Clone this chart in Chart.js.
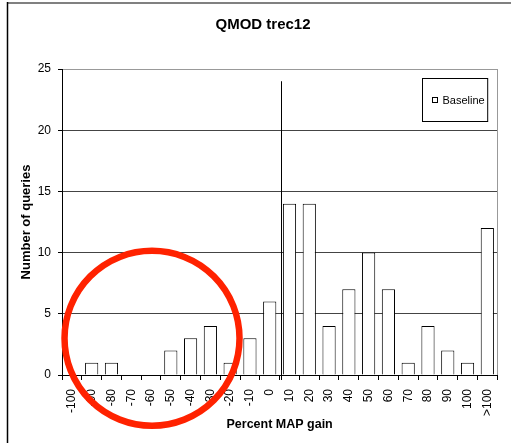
<!DOCTYPE html>
<html>
<head>
<meta charset="utf-8">
<script src="https://cdn.jsdelivr.net/npm/chart.js@4"></script>
<style>
html,body{margin:0;padding:0;background:#fff;}
#wrap{position:relative;width:511px;height:443px;}
</style>
</head>
<body>
<div id="wrap"><canvas id="c" width="511" height="443"></canvas></div>
<script>
const categories = ['-100','-90','-80','-70','-60','-50','-40','-30','-20','-10','0','10','20','30','40','50','60','70','80','90','100','>100'];
const baseline = [0,1,1,0,0,2,3,4,1,3,6,14,14,4,7,10,7,1,4,2,1,12];
const yTicks = [0,5,10,15,20,25];
const seriesName = 'Baseline';
const chartTitle = 'QMOD trec12';
const xTitle = 'Percent MAP gain';
const yTitle = 'Number of queries';
const markerBetween = ['0','10'];
const markerTop = 24;
const highlightCenter = ['-60', 3.0];

const FONT = "'Liberation Sans', Arial, sans-serif";

const decor = {
  id: 'decor',
  beforeDraw(chart) {
    const ctx = chart.ctx;
    ctx.save();
    ctx.fillStyle = '#fff';
    ctx.fillRect(0, 0, chart.width, chart.height);
    ctx.restore();
  },
  afterDraw(chart) {
    const ctx = chart.ctx;
    const xs = chart.scales.x, ys = chart.scales.y;
    const ca = chart.chartArea;
    ctx.save();
    // outer frame
    ctx.strokeStyle = '#808080';
    ctx.lineWidth = 2;
    ctx.beginPath();
    ctx.moveTo(7, 3); ctx.lineTo(chart.width, 3);
    ctx.stroke();
    ctx.strokeStyle = '#000';
    ctx.lineWidth = 1.5;
    ctx.beginPath();
    ctx.moveTo(7.5, 2); ctx.lineTo(7.5, chart.height);
    ctx.stroke();
    // chart title
    ctx.fillStyle = '#000';
    ctx.font = "bold 15px " + FONT;
    ctx.textAlign = 'center';
    ctx.textBaseline = 'middle';
    ctx.fillText(chartTitle, (7 + chart.width) / 2 + 4, 25);
    // right plot border
    ctx.strokeStyle = '#999';
    ctx.lineWidth = 1;
    ctx.beginPath();
    ctx.moveTo(Math.round(ca.right) + 0.5, ca.top);
    ctx.lineTo(Math.round(ca.right) + 0.5, ca.bottom);
    ctx.stroke();
    // vertical marker between categories
    const i0 = categories.indexOf(markerBetween[0]);
    const i1 = categories.indexOf(markerBetween[1]);
    const mx = Math.round((xs.getPixelForValue(i0) + xs.getPixelForValue(i1)) / 2) + 1.5;
    ctx.strokeStyle = '#000';
    ctx.lineWidth = 1;
    ctx.beginPath();
    ctx.moveTo(mx, ys.getPixelForValue(markerTop));
    ctx.lineTo(mx, ca.bottom + 5);
    ctx.stroke();
    // legend
    ctx.font = "11px " + FONT;
    const tw = ctx.measureText(seriesName).width;
    const bw = tw + 23, bh = 43;
    const bx = Math.round(ca.right - 10 - bw) + 0.5;
    const by = Math.round(ca.top + 9) + 0.5;
    ctx.fillStyle = '#fff';
    ctx.fillRect(bx, by, bw, bh);
    ctx.strokeStyle = '#000';
    ctx.strokeRect(bx, by, bw, bh);
    const sy = Math.round(by + bh / 2 - 3) + 0.5;
    ctx.strokeRect(bx + 10, sy, 5, 5);
    ctx.fillStyle = '#000';
    ctx.textBaseline = 'middle';
    ctx.textAlign = 'left';
    ctx.fillText(seriesName, bx + 20, by + bh / 2 + 0.5);
    // highlight circle
    const cx = xs.getPixelForValue(categories.indexOf(highlightCenter[0]));
    const cy = ys.getPixelForValue(highlightCenter[1]);
    ctx.strokeStyle = 'rgb(255,34,0)';
    ctx.lineWidth = 6.5;
    ctx.beginPath();
    ctx.arc(cx + 1, cy, 87.5, 0, Math.PI * 2);
    ctx.stroke();
    ctx.restore();
  }
};

new Chart(document.getElementById('c'), {
  type: 'bar',
  data: {
    labels: categories,
    datasets: [{
      label: seriesName,
      data: baseline,
      backgroundColor: '#fff',
      borderColor: '#000',
      borderWidth: 1,
      barPercentage: 0.667,
      categoryPercentage: 1
    }]
  },
  options: {
    responsive: false,
    animation: false,
    devicePixelRatio: 1,
    layout: { padding: { left: 0, right: 12, top: 69, bottom: 0 } },
    plugins: {
      legend: { display: false },
      tooltip: { enabled: false },
      title: { display: false }
    },
    scales: {
      x: {
        offset: true,
        grid: { offset: true, drawOnChartArea: false, drawTicks: true, tickLength: 5, color: '#000' },
        border: { color: '#000', width: 1 },
        ticks: {
          minRotation: 90, maxRotation: 90, autoSkip: false, padding: 9,
          color: '#000', font: { family: FONT, size: 12 }
        },
        title: {
          display: true, text: xTitle, color: '#000',
          font: { family: FONT, size: 12.5, weight: 'bold' },
          padding: { top: 0, bottom: 11 }
        },
        afterFit(s) { s.height = 68; }
      },
      y: {
        min: 0, max: 25,
        afterBuildTicks(s) { s.ticks = yTicks.map(v => ({ value: v })); },
        grid: {
          color: c => (c.tick && c.tick.value === 25) ? '#999' : '#444',
          tickColor: '#000',
          tickLength: 4,
          lineWidth: 1
        },
        border: { color: '#000', width: 1 },
        ticks: { padding: 7, color: '#000', font: { family: FONT, size: 12 } },
        title: {
          display: true, text: yTitle, color: '#000',
          font: { family: FONT, size: 13, weight: 'bold' },
          padding: { top: 19, bottom: 0 }
        },
        afterFit(s) { s.width = 62; }
      }
    }
  },
  plugins: [decor]
});
</script>
</body>
</html>
